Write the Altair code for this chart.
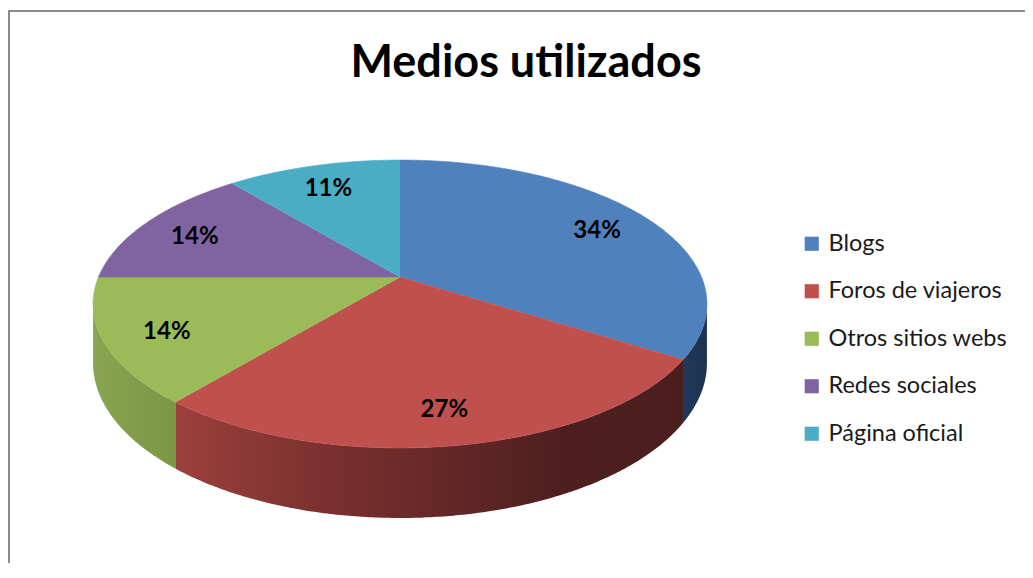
import altair as alt
import numpy as np
import pandas as pd

# ---- data ----
categories = ["Blogs", "Foros de viajeros", "Otros sitios webs", "Redes sociales", "Página oficial"]
values = [34, 27, 14, 14, 11]
colors = ["#4F81BD", "#C0504D", "#9BBB59", "#8064A2", "#4BACC6"]
title_text = "Medios utilizados"

# ---- 3D (perspective) pie geometry, layout only ----
CX, CY = 400.0, 277.0      # projected pie centre (page px)
A, B, K = 301.5, 138.9, 0.1875
DEPTH = 56.9
LABEL_R = 0.8


def proj(theta_deg, f=1.0):
    t = np.radians(theta_deg)
    u, v = f * np.sin(t), f * np.cos(t)
    den = 1 + K * v
    return CX + A * u / den, CY - B * v / den


total = float(sum(values))
ends = np.cumsum(values) / total * 360.0
starts = ends - np.array(values) / total * 360.0

# top-face polygons
top_rows = []
for c, s, e in zip(categories, starts, ends):
    top_rows.append({"cat": c, "idx": 0, "x": CX, "y": CY})
    n = max(int((e - s) * 2), 8)
    for i, th in enumerate(np.linspace(s, e, n)):
        x, y = proj(th)
        top_rows.append({"cat": c, "idx": i + 1, "x": float(x), "y": float(y)})
top_df = pd.DataFrame(top_rows)

# side walls (visible between the two silhouette tangents)
th1 = float(np.degrees(np.arccos(-K)))
th2 = 360.0 - th1
side_rows = []
for c, s, e in zip(categories, starts, ends):
    lo, hi = max(s, th1), min(e, th2)
    if lo >= hi:
        continue
    n = max(int((hi - lo) * 2), 6)
    for th in np.linspace(lo, hi, n):
        x, y = proj(th)
        v = np.cos(np.radians(th))
        side_rows.append({"cat": c, "sx": float(x), "top": float(y),
                          "bot": float(y + DEPTH / (1 + K * v))})
side_df = pd.DataFrame(side_rows).sort_values("sx").reset_index(drop=True)

# percentage labels
lab_rows = []
for c, v, s, e in zip(categories, values, starts, ends):
    x, y = proj((s + e) / 2, LABEL_R)
    lab_rows.append({"cat": c, "label": f"{v}%", "x": float(x), "y": float(y)})
lab_df = pd.DataFrame(lab_rows)

W, H = 1017, 555
xs = alt.Scale(domain=[8, 8 + W], nice=False, zero=False)
ys = alt.Scale(domain=[8 + H, 8], nice=False, zero=False)
cscale = alt.Scale(domain=categories, range=colors)

side_grad = {
    "Blogs": [("#21385a", 0), ("#1d3250", 1)],
    "Foros de viajeros": [("#9c403d", 0), ("#7a302e", 0.3), ("#4f1f1f", 0.75), ("#4b1e1e", 1)],
    "Otros sitios webs": [("#88a551", 0), ("#7b9645", 1)],
}

layers = []
for c in side_df["cat"].unique():
    stops = [alt.GradientStop(color=col, offset=o) for col, o in side_grad[c]]
    layers.append(
        alt.Chart(side_df[side_df["cat"] == c]).mark_area(
            fill=alt.Gradient(gradient="linear", stops=stops, x1=0, x2=1, y1=0, y2=0),
            interpolate="linear", opacity=1,
        ).encode(
            x=alt.X("sx:Q", scale=xs, axis=None),
            y=alt.Y("top:Q", scale=ys, axis=None, stack=None),
            y2=alt.Y2("bot:Q"),
        )
    )

top = alt.Chart(top_df).mark_line(filled=True, strokeWidth=0.6, interpolate="linear").encode(
    x=alt.X("x:Q", scale=xs, axis=None),
    y=alt.Y("y:Q", scale=ys, axis=None),
    fill=alt.Fill("cat:N", scale=cscale, sort=categories,
                  legend=alt.Legend(title=None, orient="none", legendX=792, legendY=224,
                                    symbolType="square", symbolSize=200,
                                    symbolStrokeWidth=0, labelFontSize=23.5,
                                    labelFont="Lato", labelColor="#1a1a1a", labelLimit=400,
                                    labelOffset=5, rowPadding=22.5, padding=0)),
    stroke=alt.Stroke("cat:N", scale=cscale, legend=None),
    order=alt.Order("idx:Q"),
)

labels = alt.Chart(lab_df).mark_text(font="Lato", fontSize=24, fontWeight="bold", dy=4,
                                     color="black", baseline="middle", align="center").encode(
    x=alt.X("x:Q", scale=xs, axis=None),
    y=alt.Y("y:Q", scale=ys, axis=None),
    text="label:N",
)

title = alt.Chart(pd.DataFrame({"t": [title_text]})).mark_text(
    font="Lato", fontSize=45, fontWeight="bold", color="black",
    baseline="middle", align="center").encode(
    text="t:N", x=alt.value(518), y=alt.value(55))

frame = pd.DataFrame({"k": [0]})
border_top = alt.Chart(frame).mark_rule(color="#8c8c8c", strokeWidth=2).encode(
    x=alt.value(0), x2=alt.value(W), y=alt.value(3))
border_left = alt.Chart(frame).mark_rule(color="#8c8c8c", strokeWidth=2).encode(
    x=alt.value(1), y=alt.value(2), y2=alt.value(H))

chart = alt.layer(*layers, top, labels, title, border_top, border_left).properties(
    width=W, height=H, autosize=alt.AutoSizeParams(type="none"),
    padding={"left": 0, "top": 0, "right": 0, "bottom": 0},
).configure_view(stroke=None)

chart.save("out.html", embed_options={"renderer": "svg", "actions": False})
